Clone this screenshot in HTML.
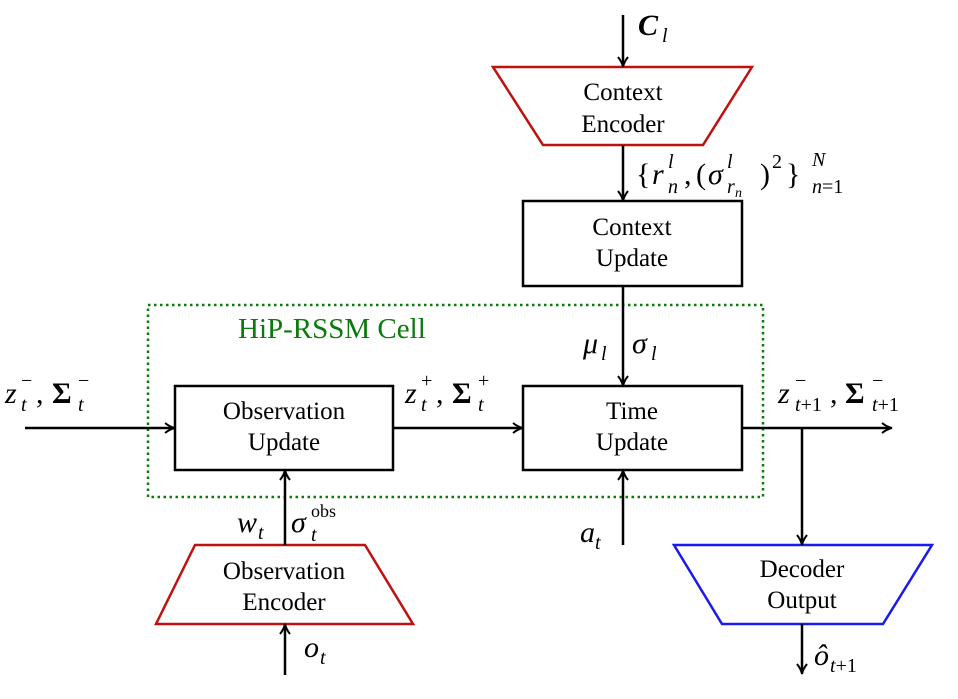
<!DOCTYPE html>
<html><head><meta charset="utf-8"><style>
html,body{margin:0;padding:0;background:#fff;width:958px;height:699px;overflow:hidden}
text{font-family:"Liberation Serif",serif;fill:#000}
.l{font-size:25px;text-anchor:middle}
.m{font-size:30px;font-style:italic}
.u{font-size:30px}
.s{font-size:20px;font-style:italic}
.su{font-size:20px}
.b{font-weight:bold;font-size:30px}
</style></head><body>
<svg width="958" height="699" viewBox="0 0 958 699" xmlns="http://www.w3.org/2000/svg">
<defs><marker id="a" markerWidth="12" markerHeight="12" refX="10" refY="6" orient="auto" markerUnits="userSpaceOnUse"><path d="M1,1 Q6,5 11,6 Q6,7 1,11" fill="none" stroke="#000" stroke-width="2"/></marker></defs>
<g stroke="#000" stroke-width="2.5" fill="none">
<rect x="148" y="305" width="615" height="192" stroke="#0a7a0a" stroke-width="2.5" stroke-dasharray="2.5,3.5"/>
<polygon points="493,67 752,67 703,145 543,145" stroke="#c01010"/>
<polygon points="195,545 365,545 413,624 156,624" stroke="#c01010"/>
<polygon points="674,545 932,545 883,624 722,624" stroke="#1a1aee"/>
<rect x="523" y="201" width="219" height="85"/>
<rect x="175" y="386" width="218" height="84"/>
<rect x="523" y="386" width="219" height="84"/>
<line x1="623" y1="15" x2="623" y2="66" marker-end="url(#a)"/>
<line x1="623" y1="145" x2="623" y2="200" marker-end="url(#a)"/>
<line x1="623" y1="286" x2="623" y2="385" marker-end="url(#a)"/>
<line x1="25" y1="428" x2="174" y2="428" marker-end="url(#a)"/>
<line x1="393" y1="428" x2="522" y2="428" marker-end="url(#a)"/>
<line x1="742" y1="428" x2="891" y2="428" marker-end="url(#a)"/>
<line x1="802" y1="428" x2="802" y2="544" marker-end="url(#a)"/>
<line x1="285" y1="545" x2="285" y2="471" marker-end="url(#a)"/>
<line x1="623" y1="545" x2="623" y2="471" marker-end="url(#a)"/>
<line x1="285" y1="675" x2="285" y2="625" marker-end="url(#a)"/>
<line x1="802" y1="624" x2="802" y2="673" marker-end="url(#a)"/>
</g>
<text class="l" x="623" y="100">Context</text><text class="l" x="623" y="132">Encoder</text>
<text class="l" x="632" y="235">Context</text><text class="l" x="632" y="266">Update</text>
<text class="l" x="284" y="419">Observation</text><text class="l" x="284" y="450">Update</text>
<text class="l" x="632" y="419">Time</text><text class="l" x="632" y="450">Update</text>
<text class="l" x="284" y="579">Observation</text><text class="l" x="284" y="610">Encoder</text>
<text class="l" x="802" y="577">Decoder</text><text class="l" x="802" y="608">Output</text>
<text x="238" y="338" style="font-size:29px;fill:#0a7a0a">HiP-RSSM Cell</text>

<text class="b" x="638" y="35" font-style="italic">C</text><text class="s" x="662" y="42">l</text>

<text class="u" x="636" y="184">{</text>
<text class="m" x="652" y="184">r</text><text class="s" x="668" y="168">l</text><text class="s" x="668" y="193">n</text>
<text class="u" x="684" y="184">,</text><text class="u" x="696" y="184">(</text>
<text class="m" x="708" y="184">σ</text><text class="s" x="727" y="168">l</text><text class="s" x="727" y="193">r</text><text class="s" x="735" y="197" style="font-size:14px">n</text>
<text class="u" x="760" y="184">)</text><text class="su" x="772" y="168">2</text>
<text class="u" x="786" y="184">}</text>
<text class="s" x="812" y="166">N</text><text class="su" x="812" y="193"><tspan font-style="italic">n</tspan>=1</text>

<text class="m" x="5" y="403">z</text><text class="su" x="21" y="387">−</text><text class="s" x="21" y="411">t</text>
<text class="u" x="36" y="403">,</text><text class="b" x="52" y="403">Σ</text><text class="su" x="78" y="387">−</text><text class="s" x="78" y="411">t</text>

<text class="m" x="405" y="403">z</text><text class="su" x="421" y="387">+</text><text class="s" x="421" y="411">t</text>
<text class="u" x="436" y="403">,</text><text class="b" x="452" y="403">Σ</text><text class="su" x="478" y="387">+</text><text class="s" x="478" y="411">t</text>

<text class="m" x="778" y="403">z</text><text class="su" x="795" y="387">−</text><text class="su" x="795" y="411"><tspan font-style="italic">t</tspan>+1</text>
<text class="u" x="830" y="403">,</text><text class="b" x="845" y="403">Σ</text><text class="su" x="872" y="387">−</text><text class="su" x="872" y="411"><tspan font-style="italic">t</tspan>+1</text>

<text class="m" x="583" y="353">μ</text><text class="s" x="601" y="360">l</text>
<text class="m" x="632" y="353">σ</text><text class="s" x="651" y="360">l</text>
<text class="m" x="237" y="532">w</text><text class="s" x="258" y="539">t</text>
<text class="m" x="291" y="532">σ</text><text class="su" x="311" y="517" style="font-size:18px">obs</text><text class="s" x="311" y="541">t</text>
<text class="m" x="580" y="542">a</text><text class="s" x="595" y="549">t</text>
<text class="m" x="304" y="657">o</text><text class="s" x="320" y="664">t</text>
<text class="m" x="814" y="665">ô</text><text class="su" x="830" y="672"><tspan font-style="italic">t</tspan>+1</text>
</svg>
</body></html>
